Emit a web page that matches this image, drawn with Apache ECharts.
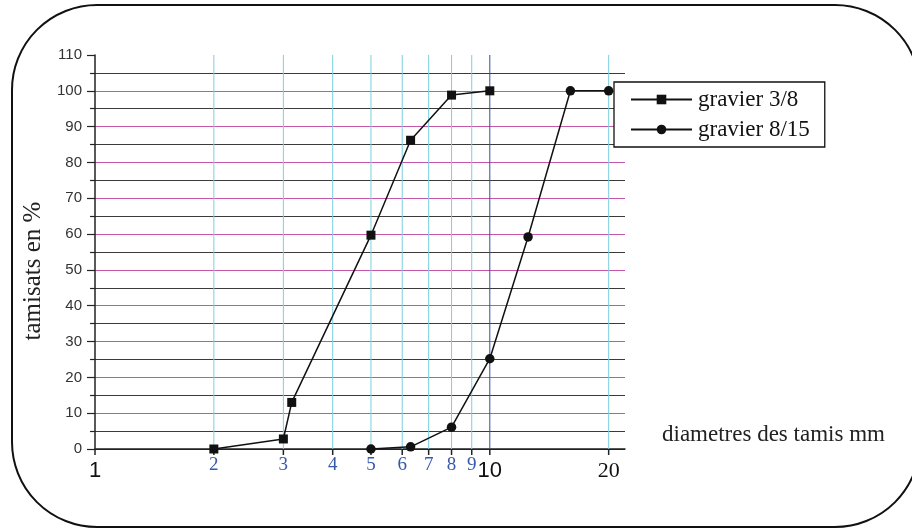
<!DOCTYPE html>
<html>
<head>
<meta charset="utf-8">
<script src="https://cdn.jsdelivr.net/npm/echarts@6/dist/echarts.min.js"></script>
<style>
  html, body { margin: 0; padding: 0; background: #fff; }
  #chart { width: 912px; height: 528px; }
</style>
</head>
<body>
<div id="chart"></div>
<script>
// Sieve openings (mm) and cumulative passing (%) for each gravel
const sizes38 = [2, 3, 3.15, 5, 6.3, 8, 10];
const passing38 = [0, 2.8, 13, 59.7, 86.2, 98.8, 100];
const sizes815 = [5, 6.3, 8, 10, 12.5, 16, 20];
const passing815 = [0, 0.6, 6.1, 25.2, 59.2, 100, 100];

// Log-scale x ticks and their labels
const xTicks = [1, 2, 3, 4, 5, 6, 7, 8, 9, 10, 20];
const xTickLabels = ['1', '2', '3', '4', '5', '6', '7', '8', '9', '10', '20'];

const seriesNames = ['gravier 3/8', 'gravier 8/15'];
const yTitle = 'tamisats en %';
const xTitle = 'diametres des tamis mm';

const serif = '"Liberation Serif", "Times New Roman", serif';
const sans = '"Liberation Sans", Arial, sans-serif';

// decade marks in black sans, intermediate sieves in blue serif, 20 in black serif
function tickLook(v) {
  if (v === 1 || v === 10) return { font: '22px ' + sans, fill: '#111', dy: 11, line: v === 10 ? '#2f4fa3' : null };
  if (v === 20) return { font: '22px ' + serif, fill: '#111', dy: 11, line: '#7ccfe0' };
  return { font: '19px ' + serif, fill: '#3658ad', dy: 7, line: '#7ccfe0' };
}

const magenta = '#c656a8';
const splitColors = ['#222'];
for (let i = 1; i <= 10; i++) splitColors.push(magenta);
splitColors.push('rgba(0,0,0,0)');

const chart = echarts.init(document.getElementById('chart'), null, { renderer: 'canvas' });

chart.setOption({
  animation: false,
  backgroundColor: '#fff',
  grid: { left: 95, right: 287, top: 55, bottom: 79 },
  xAxis: {
    type: 'log',
    logBase: 10,
    min: 1,
    max: 22,
    axisLine: { show: true, lineStyle: { color: '#222', width: 1.5 } },
    axisTick: { show: false },
    axisLabel: { show: false },
    splitLine: { show: false },
    minorTick: { show: false }
  },
  yAxis: {
    type: 'value',
    min: 0,
    max: 110,
    interval: 10,
    axisLine: { show: true, lineStyle: { color: '#222', width: 1.5 } },
    axisTick: { show: true, inside: false, length: 8, lineStyle: { color: '#222', width: 1.2 } },
    minorTick: { show: true, splitNumber: 2, length: 5, lineStyle: { color: '#222', width: 1.2 } },
    axisLabel: { color: '#333', fontFamily: sans, fontSize: 15, margin: 13 },
    splitLine: { show: true, lineStyle: { color: splitColors, width: 1 } },
    minorSplitLine: { show: true, lineStyle: { color: '#3a3a3a', width: 1 } }
  },
  legend: {
    data: seriesNames,
    orient: 'vertical',
    left: 614,
    top: 82,
    padding: [6, 15, 6, 16],
    itemGap: 7,
    itemWidth: 61,
    itemHeight: 12,
    backgroundColor: '#fff',
    borderColor: '#111',
    borderWidth: 1.3,
    textStyle: { fontFamily: serif, fontSize: 23, color: '#111', padding: [0, 0, 0, 1] }
  },
  graphic: [
    {
      type: 'rect',
      silent: true,
      z: 100,
      shape: { x: 12, y: 5, width: 908, height: 522, r: 85 },
      style: { fill: 'none', stroke: '#111', lineWidth: 2 }
    },
    {
      type: 'text',
      x: 33,
      y: 271,
      rotation: Math.PI / 2,
      style: { text: yTitle, font: '25px ' + serif, fill: '#222', align: 'center', verticalAlign: 'middle' }
    },
    {
      type: 'text',
      x: 662,
      y: 435,
      style: { text: xTitle, font: '23px ' + serif, fill: '#222', align: 'left', verticalAlign: 'middle' }
    }
  ],
  series: [
    {
      // sieve grid lines, ticks and labels placed through the log axis
      type: 'custom',
      name: 'sieves',
      z: 1,
      silent: true,
      clip: false,
      data: xTicks.map((v, i) => [v, 0, i]),
      encode: { x: 0, y: 1 },
      renderItem: function (params, api) {
        const v = api.value(0);
        const idx = api.value(2);
        const top = api.coord([v, 110]);
        const bot = api.coord([v, 0]);
        const look = tickLook(v);
        const children = [];
        if (look.line) {
          children.push({
            type: 'line',
            shape: { x1: bot[0], y1: top[1], x2: bot[0], y2: bot[1] },
            style: { stroke: look.line, lineWidth: 1 }
          });
        }
        children.push({
          type: 'line',
          shape: { x1: bot[0], y1: bot[1], x2: bot[0], y2: bot[1] + 6 },
          style: { stroke: '#222', lineWidth: 1.5 }
        });
        children.push({
          type: 'text',
          x: bot[0],
          y: bot[1] + look.dy,
          style: { text: xTickLabels[idx], font: look.font, fill: look.fill, align: 'center', verticalAlign: 'top' }
        });
        return { type: 'group', children: children };
      }
    },
    {
      type: 'line',
      name: seriesNames[0],
      z: 5,
      data: sizes38.map((s, i) => [s, passing38[i]]),
      symbol: 'rect',
      symbolSize: 9,
      showAllSymbol: true,
      lineStyle: { color: '#111', width: 1.5 },
      itemStyle: { color: '#111' }
    },
    {
      type: 'line',
      name: seriesNames[1],
      z: 5,
      data: sizes815.map((s, i) => [s, passing815[i]]),
      symbol: 'circle',
      symbolSize: 9.5,
      showAllSymbol: true,
      lineStyle: { color: '#111', width: 1.5 },
      itemStyle: { color: '#111' }
    }
  ]
});
</script>
</body>
</html>
